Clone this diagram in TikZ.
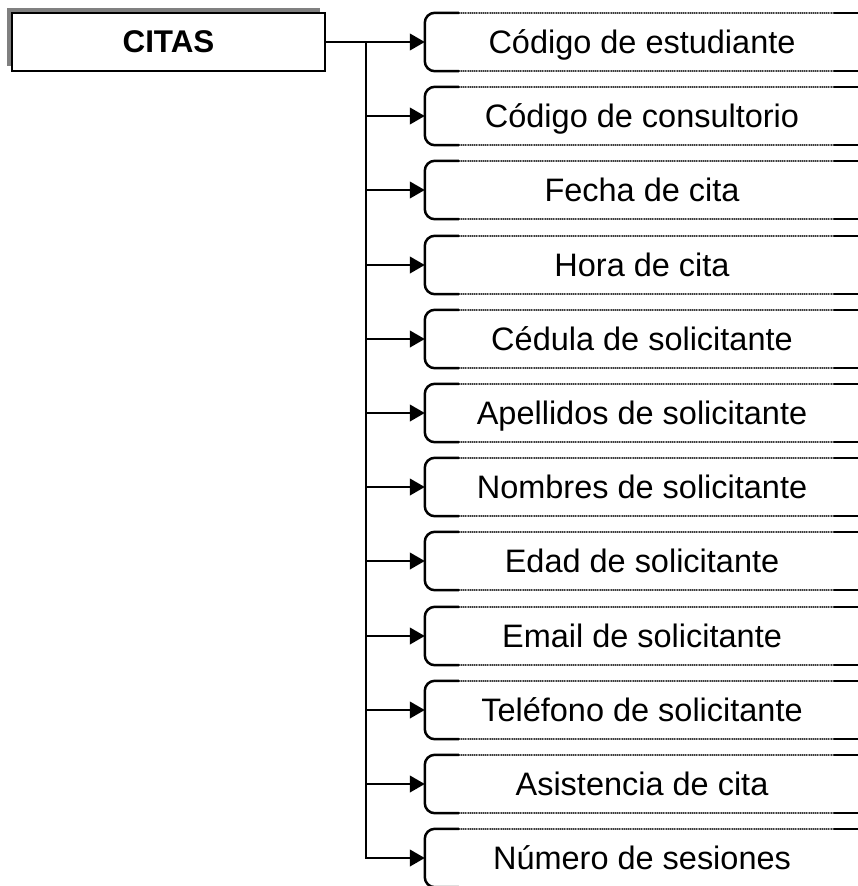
\documentclass[tikz,border=0pt]{standalone}
\usepackage{fontspec}
\setmainfont{Liberation Sans}
\usetikzlibrary{arrows.meta,calc,shadows}
\definecolor{shadowgray}{HTML}{808080}
\definecolor{dotlight}{HTML}{A0A0A0}
\definecolor{dotdark}{HTML}{3C3C3C}
\begin{document}
\begin{tikzpicture}[x=1bp,y=-1bp,
  field/.style={minimum width=434bp, minimum height=58bp, inner sep=0pt,
    text height=23.5bp, text depth=0pt, font=\fontsize{32.6}{38}\selectfont},
  outline/.style={line width=2.5bp, rounded corners=10bp},
  dotbase/.style={line width=2bp, dotlight},
  dotline/.style={line width=2bp, dotdark, dash pattern=on 1bp off 1.2bp},
  solidline/.style={line width=2.5bp},
  conn/.style={line width=2.6bp, -{Triangle[length=15bp,width=16.5bp]}},
  mainbox/.style={draw, fill=white, line width=2bp, minimum width=313bp,
    minimum height=57bp, inner sep=0pt, text height=21.5bp, text depth=0pt,
    font=\bfseries\fontsize{31.5}{36}\selectfont,
    drop shadow={shadow xshift=-5bp, shadow yshift=5bp, fill=shadowgray, opacity=1}}]
\useasboundingbox (0,0) rectangle (858,886);
\clip (0,0) rectangle (858,886);
\fill[white] (0,0) rectangle (858,886);

\node[mainbox] (citas) at (168.5,42) {CITAS};

\foreach \i/\t in {0/Código de estudiante, 1/Código de consultorio, 2/Fecha de cita,
  3/Hora de cita, 4/Cédula de solicitante, 5/Apellidos de solicitante,
  6/Nombres de solicitante, 7/Edad de solicitante, 8/Email de solicitante,
  9/Teléfono de solicitante, 10/Asistencia de cita, 11/Número de sesiones}{
  \pgfmathsetmacro{\yy}{round(42+74.2*\i)}
  \node[field] (f\i) at (642, \yy) {\t};
  \draw[outline] ($(f\i.north west)+(34,0)$) -- (f\i.north west) -- (f\i.south west) -- ($(f\i.south west)+(34,0)$);
  \draw[dotbase] ($(f\i.north west)+(34,0)$) -- ($(f\i.north west)+(409,0)$);
  \draw[dotbase] ($(f\i.south west)+(34,0)$) -- ($(f\i.south west)+(409,0)$);
  \draw[dotline] ($(f\i.north west)+(34,0)$) -- ($(f\i.north west)+(409,0)$);
  \draw[dotline] ($(f\i.south west)+(34,0)$) -- ($(f\i.south west)+(409,0)$);
  \draw[solidline] ($(f\i.north west)+(409,0)$) -- ($(f\i.north east)+(20,0)$);
  \draw[solidline] ($(f\i.south west)+(409,0)$) -- ($(f\i.south east)+(20,0)$);
}

\coordinate (j) at (366,42);
\draw[conn] (citas.east) -- (f0.west);
\draw[conn] (j) |- (f11.west);
\foreach \i in {1,...,10}{
  \draw[conn] (j |- f\i.west) -- (f\i.west);
}
\end{tikzpicture}
\end{document}
